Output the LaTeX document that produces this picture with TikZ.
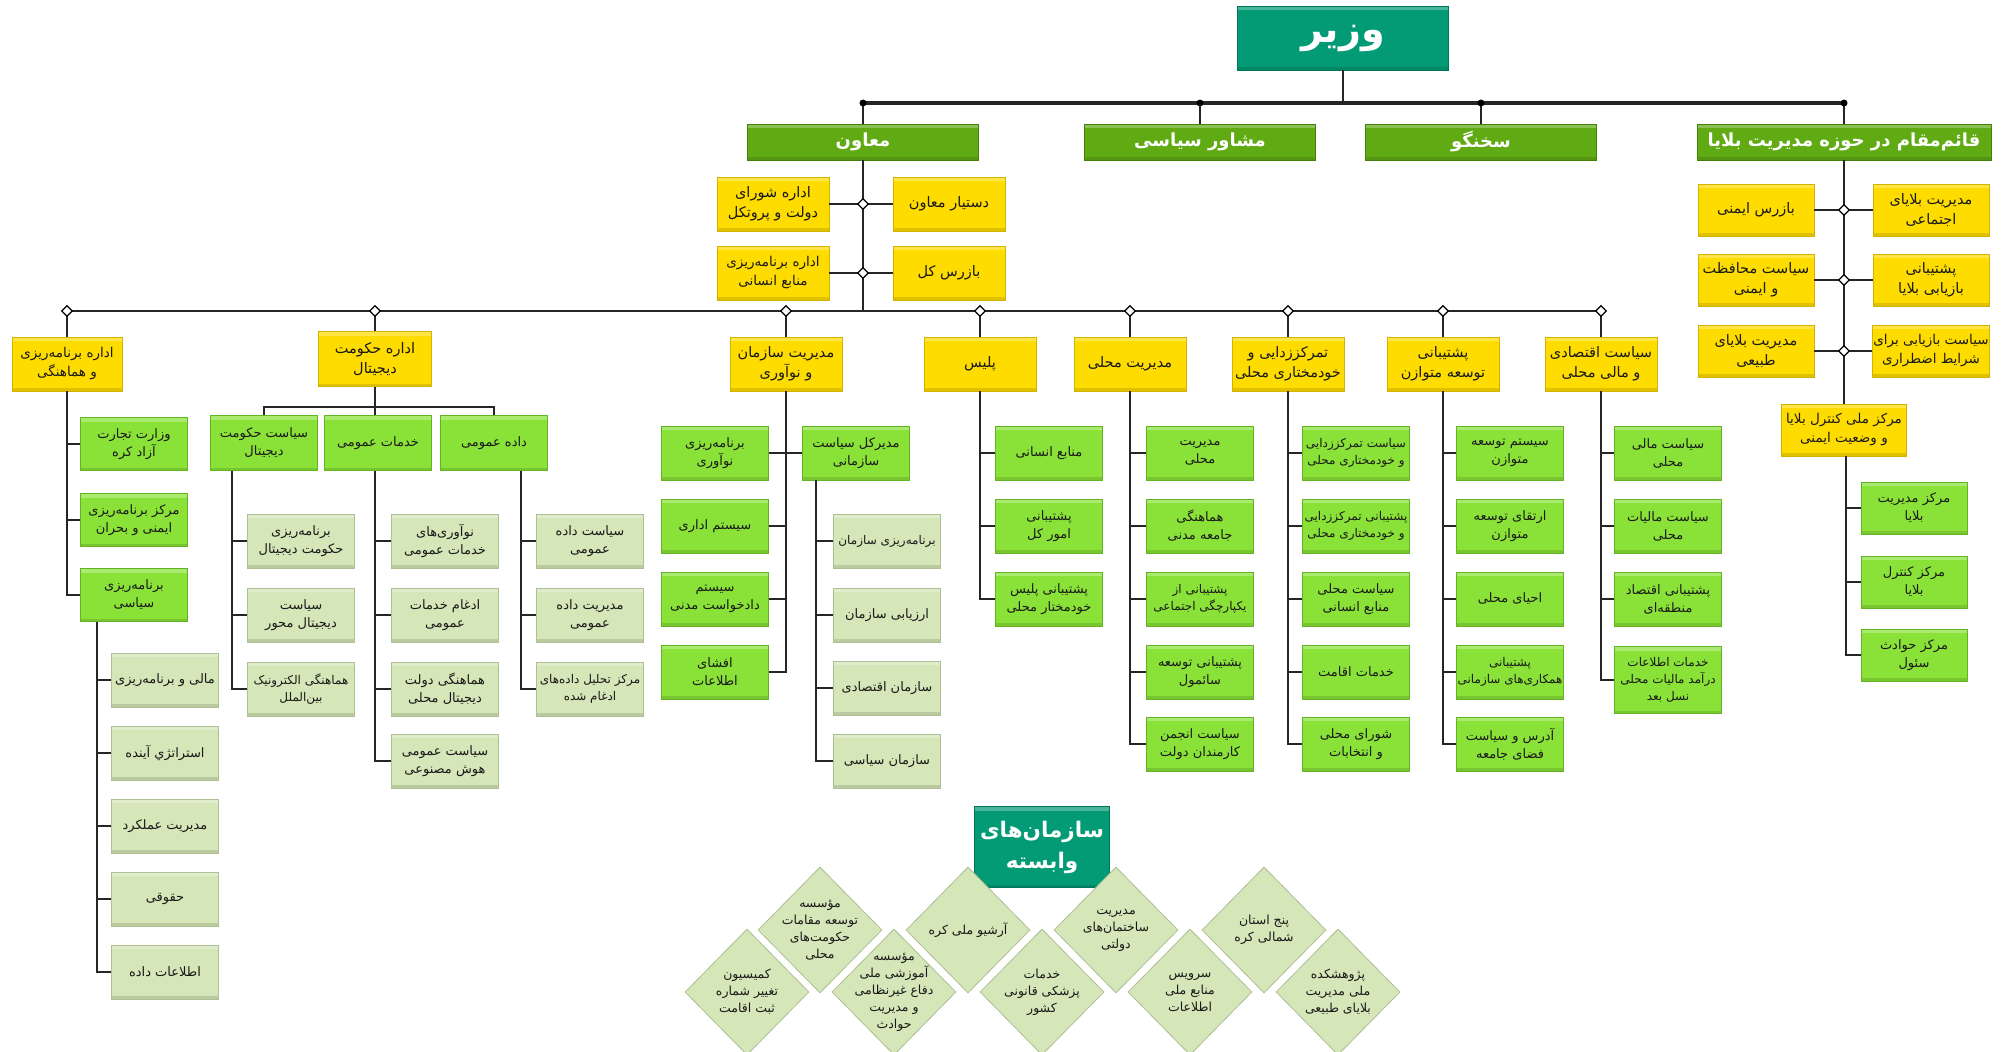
\documentclass[tikz,border=0pt]{standalone}
\usepackage{fontspec}
\usetikzlibrary{shapes.geometric}
\newfontfamily\arabicfont[Script=Arabic]{DejaVu Sans}
\TeXXeTstate=1
\newcommand\fatxt[1]{\beginR#1\endR}
\newcommand\zw{^^^^200c}
\definecolor{tealC}{RGB}{3,155,118}
\definecolor{tealD}{RGB}{0,118,88}
\definecolor{lvC}{RGB}{96,170,20}
\definecolor{lvD}{RGB}{66,128,10}
\definecolor{yelC}{RGB}{255,220,0}
\definecolor{yelD}{RGB}{212,178,0}
\definecolor{grnC}{RGB}{138,226,56}
\definecolor{grnD}{RGB}{98,180,36}
\definecolor{ltC}{RGB}{213,230,184}
\definecolor{ltD}{RGB}{172,192,148}
\definecolor{lnC}{RGB}{38,38,38}
\definecolor{txC}{RGB}{25,25,25}
\tikzset{
 box/.style={rectangle, inner sep=1pt, align=center, text=txC, line width=0.8pt,
   font=\arabicfont\fontsize{13}{18}\selectfont,
   path picture={\fill[white, opacity=0.28] (path picture bounding box.north west) rectangle ([yshift=-4pt]path picture bounding box.north east);
                 \fill[black, opacity=0.12] (path picture bounding box.south west) rectangle ([yshift=3pt]path picture bounding box.south east);}},
 small/.style={font=\arabicfont\fontsize{12}{17}\selectfont},
 ybox/.style={box, fill=yelC, draw=yelD, minimum width=112pt, minimum height=54pt,
   font=\arabicfont\fontsize{14.5}{20}\selectfont},
 ysmall/.style={font=\arabicfont\fontsize{13.5}{19}\selectfont},
 gbox/.style={box, fill=grnC, draw=grnD, minimum width=107pt, minimum height=54pt},
 lbox/.style={box, fill=ltC, draw=ltD, minimum width=107pt, minimum height=54pt},
 lvbox/.style={box, fill=lvC, draw=lvD, minimum width=231pt, minimum height=36pt, text=white,
   font=\arabicfont\bfseries\fontsize{18}{22}\selectfont},
 tbox/.style={box, fill=tealC, draw=tealD, text=white},
 conn/.style={draw=lnC, line width=2.8pt},
 connT/.style={draw=lnC, line width=4pt},
 jd/.style={diamond, draw=black, fill=white, line width=1.2pt, inner sep=0pt, minimum width=11pt, minimum height=11pt},
 jdot/.style={circle, fill=black, inner sep=0pt, minimum size=7pt},
 dshape/.style={diamond, fill=ltC, draw=ltD, line width=0.8pt, inner sep=0pt, minimum width=124pt, minimum height=126pt},
 dtext/.style={align=center, text=txC, font=\arabicfont\fontsize{12.5}{17}\selectfont, inner sep=0pt},
}
\begin{document}
\begin{tikzpicture}[x=1pt,y=-1pt]
\useasboundingbox[fill=white] (0,0) rectangle (2008,1052);
% ---------- top ----------
\node[tbox, minimum width=211pt, minimum height=64pt, font=\arabicfont\bfseries\fontsize{38}{44}\selectfont] (wz) at (1343,38) {\fatxt{وزیر}};
\node[lvbox] (l2a) at (863,142) {\fatxt{معاون}};
\node[lvbox] (l2b) at (1200,142) {\fatxt{مشاور سیاسی}};
\node[lvbox] (l2c) at (1481,142) {\fatxt{سخنگو}};
\node[lvbox, minimum width=294pt] (l2d) at (1844,142) {\fatxt{قائم\zw مقام در حوزه مدیریت بلایا}};
\coordinate (b2L) at (863,103);
\coordinate (b2R) at (1844,103);
\draw[connT] (b2L) -- (b2R);
\draw[conn] (wz.south) -- (wz.south |- b2L);
\foreach \n in {l2a,l2b,l2c,l2d} \draw[conn] (\n.north) -- (\n.north |- b2L);
\foreach \n/\k in {l2a/1,l2b/2,l2c/3,l2d/4} \node[jdot] (dot\k) at (\n.north |- b2L) {};
% ---------- deputy ----------
\node[ybox] (m1) at (949,204) {\fatxt{دستیار معاون}};
\node[ybox] (m2) at (773,204) {\fatxt{اداره شورای}\\\fatxt{دولت و پروتکل}};
\node[ybox] (m3) at (949,273) {\fatxt{بازرس کل}};
\node[ybox, ysmall] (m4) at (773,273) {\fatxt{اداره برنامه\zw ریزی}\\\fatxt{منابع انسانی}};
\coordinate (b3L) at (67,311);
\coordinate (b3R) at (1601,311);
\draw[conn] (l2a.south) -- (l2a.south |- b3L);
\draw[conn] (m2.east) -- (m1.west);
\draw[conn] (m4.east) -- (m3.west);
\node[jd] (jm1) at (l2a.south |- m1.west) {};
\node[jd] (jm2) at (l2a.south |- m3.west) {};
% ---------- right column ----------
\node[ybox, minimum width=116pt, minimum height=52pt] (r1R) at (1931,210) {\fatxt{مدیریت بلایای}\\\fatxt{اجتماعی}};
\node[ybox, minimum width=116pt, minimum height=52pt] (r1L) at (1756,210) {\fatxt{بازرس ایمنی}};
\node[ybox, minimum width=116pt, minimum height=52pt] (r2R) at (1931,280) {\fatxt{پشتیبانی}\\\fatxt{بازیابی بلایا}};
\node[ybox, minimum width=116pt, minimum height=52pt] (r2L) at (1756,280) {\fatxt{سیاست محافظت}\\\fatxt{و ایمنی}};
\node[ybox, ysmall, minimum width=116pt, minimum height=52pt] (r3R) at (1931,351) {\fatxt{سیاست بازیابی برای}\\\fatxt{شرایط اضطراری}};
\node[ybox, minimum width=116pt, minimum height=52pt] (r3L) at (1756,351) {\fatxt{مدیریت بلایای}\\\fatxt{طبیعی}};
\node[ybox, ysmall, minimum width=125pt, minimum height=52pt] (mmk) at (1844,430) {\fatxt{مرکز ملی کنترل بلایا}\\\fatxt{و وضعیت ایمنی}};
\node[gbox, minimum width=106pt, minimum height=52pt] (mk1) at (1914,508) {\fatxt{مرکز مدیریت}\\\fatxt{بلایا}};
\node[gbox, minimum width=106pt, minimum height=52pt] (mk2) at (1914,582) {\fatxt{مرکز کنترل}\\\fatxt{بلایا}};
\node[gbox, minimum width=106pt, minimum height=52pt] (mk3) at (1914,655) {\fatxt{مرکز حوادث}\\\fatxt{سئول}};
\draw[conn] (l2d.south) -- (mmk.north);
\foreach \a/\b in {r1L/r1R,r2L/r2R,r3L/r3R} \draw[conn] (\a.east) -- (\b.west);
\foreach \a/\k in {r1L/1,r2L/2,r3L/3} \node[jd] (jr\k) at (l2d.south |- \a.east) {};
\coordinate (mmkv) at ([xshift=2pt]mmk.south);
\draw[conn] (mmkv) |- (mk3.west);
\foreach \n in {mk1,mk2} \draw[conn] (\n.west) -- (mmkv |- \n.west);
% ---------- level 3 ----------
\draw[conn] (b3L) -- (b3R);
\node[ybox, ysmall, minimum width=110pt] (y1) at (67,364) {\fatxt{اداره برنامه\zw ریزی}\\\fatxt{و هماهنگی}};
\node[ybox, minimum width=113pt, minimum height=55pt] (y2) at (375,359) {\fatxt{اداره حکومت}\\\fatxt{دیجیتال}};
\node[ybox] (y3) at (786,364) {\fatxt{مدیریت سازمان}\\\fatxt{و نوآوری}};
\node[ybox] (y4) at (980,364) {\fatxt{پلیس}};
\node[ybox] (y5) at (1130,364) {\fatxt{مدیریت محلی}};
\node[ybox] (y6) at (1288,364) {\fatxt{تمرکززدایی و}\\\fatxt{خودمختاری محلی}};
\node[ybox] (y7) at (1443,364) {\fatxt{پشتیبانی}\\\fatxt{توسعه متوازن}};
\node[ybox] (y8) at (1601,364) {\fatxt{سیاست اقتصادی}\\\fatxt{و مالی محلی}};
\foreach \n in {y1,y2,y3,y4,y5,y6,y7,y8} \draw[conn] (\n.north) -- (\n.north |- b3L);
% --- planning & coordination
\node[gbox, minimum height=53pt] (a1) at (134,444) {\fatxt{وزارت تجارت}\\\fatxt{آزاد کره}};
\node[gbox, minimum height=53pt] (a2) at (134,520) {\fatxt{مرکز برنامه\zw ریزی}\\\fatxt{ایمنی و بحران}};
\node[gbox, minimum height=53pt] (a3) at (134,595) {\fatxt{برنامه\zw ریزی}\\\fatxt{سیاسی}};
\draw[conn] (y1.south) |- (a3.west);
\foreach \n in {a1,a2} \draw[conn] (\n.west) -- (y1.south |- \n.west);
\node[lbox] (ap1) at (165,680) {\fatxt{مالی و برنامه\zw ریزی}};
\node[lbox] (ap2) at (165,753) {\fatxt{استراتژي آینده}};
\node[lbox] (ap3) at (165,826) {\fatxt{مدیریت عملکرد}};
\node[lbox] (ap4) at (165,899) {\fatxt{حقوقی}};
\node[lbox] (ap5) at (165,972) {\fatxt{اطلاعات داده}};
\coordinate (a3v) at ([xshift=-37pt]a3.south);
\draw[conn] (a3v) |- (ap5.west);
\foreach \n in {ap1,ap2,ap3,ap4} \draw[conn] (\n.west) -- (a3v |- \n.west);
% --- digital government
\node[gbox, minimum height=55pt] (s1) at (264,443) {\fatxt{سیاست حکومت}\\\fatxt{دیجیتال}};
\node[gbox, minimum height=55pt] (s2) at (378,443) {\fatxt{خدمات عمومی}};
\node[gbox, minimum height=55pt] (s3) at (494,443) {\fatxt{داده عمومی}};
\coordinate (hb) at (375,407);
\draw[conn] (y2.south) -- (y2.south |- s2.north);
\draw[conn] (s1.north) -- (s1.north |- hb) -- (s3.north |- hb) -- (s3.north);
\node[lbox] (s1c1) at (301,541) {\fatxt{برنامه\zw ریزی}\\\fatxt{حکومت دیجیتال}};
\node[lbox] (s1c2) at (301,615) {\fatxt{سیاست}\\\fatxt{دیجیتال محور}};
\node[lbox, small] (s1c3) at (301,689) {\fatxt{هماهنگی الکترونیک}\\\fatxt{بین\zw الملل}};
\coordinate (s1v) at ([xshift=-32pt]s1.south);
\draw[conn] (s1v) |- (s1c3.west);
\foreach \n in {s1c1,s1c2} \draw[conn] (\n.west) -- (s1v |- \n.west);
\node[lbox] (s2c1) at (445,541) {\fatxt{نوآوری\zw های}\\\fatxt{خدمات عمومی}};
\node[lbox] (s2c2) at (445,615) {\fatxt{ادغام خدمات}\\\fatxt{عمومی}};
\node[lbox] (s2c3) at (445,689) {\fatxt{هماهنگی دولت}\\\fatxt{دیجیتال محلی}};
\node[lbox] (s2c4) at (445,761) {\fatxt{سیاست عمومی}\\\fatxt{هوش مصنوعی}};
\coordinate (s2v) at ([xshift=-3pt]s2.south);
\draw[conn] (s2v) |- (s2c4.west);
\foreach \n in {s2c1,s2c2,s2c3} \draw[conn] (\n.west) -- (s2v |- \n.west);
\node[lbox] (s3c1) at (590,541) {\fatxt{سیاست داده}\\\fatxt{عمومی}};
\node[lbox] (s3c2) at (590,615) {\fatxt{مدیریت داده}\\\fatxt{عمومی}};
\node[lbox, small] (s3c3) at (590,689) {\fatxt{مرکز تحلیل داده\zw های}\\\fatxt{ادغام شده}};
\coordinate (s3v) at ([xshift=27pt]s3.south);
\draw[conn] (s3v) |- (s3c3.west);
\foreach \n in {s3c1,s3c2} \draw[conn] (\n.west) -- (s3v |- \n.west);
% --- organisation & innovation
\node[gbox] (o1) at (715,453) {\fatxt{برنامه\zw ریزی}\\\fatxt{نوآوری}};
\node[gbox] (o2) at (715,526) {\fatxt{سیستم اداری}};
\node[gbox] (o3) at (715,599) {\fatxt{سیستم}\\\fatxt{دادخواست مدنی}};
\node[gbox] (o4) at (715,672) {\fatxt{افشای}\\\fatxt{اطلاعات}};
\node[gbox] (od) at (856,453) {\fatxt{مدیرکل سیاست}\\\fatxt{سازمانی}};
\draw[conn] (y3.south) |- (o4.east);
\foreach \n in {o1,o2,o3} \draw[conn] (\n.east) -- (y3.south |- \n.east);
\draw[conn] (od.west) -- (y3.south |- od.west);
\node[lbox, small] (od1) at (887,541) {\fatxt{برنامه\zw ریزی سازمان}};
\node[lbox] (od2) at (887,615) {\fatxt{ارزیابی سازمان}};
\node[lbox] (od3) at (887,688) {\fatxt{سازمان اقتصادی}};
\node[lbox] (od4) at (887,761) {\fatxt{سازمان سیاسی}};
\coordinate (odv) at ([xshift=-40pt]od.south);
\draw[conn] (odv) |- (od4.west);
\foreach \n in {od1,od2,od3} \draw[conn] (\n.west) -- (odv |- \n.west);
% --- police
\node[gbox] (p1) at (1049,453) {\fatxt{منابع انسانی}};
\node[gbox] (p2) at (1049,526) {\fatxt{پشتیبانی}\\\fatxt{امور کل}};
\node[gbox] (p3) at (1049,599) {\fatxt{پشتیبانی پلیس}\\\fatxt{خودمختار محلی}};
\draw[conn] (y4.south) |- (p3.west);
\foreach \n in {p1,p2} \draw[conn] (\n.west) -- (y4.south |- \n.west);
% --- local administration
\node[gbox] (q1) at (1200,453) {\fatxt{مدیریت}\\\fatxt{محلی}};
\node[gbox] (q2) at (1200,526) {\fatxt{هماهنگی}\\\fatxt{جامعه مدنی}};
\node[gbox, small] (q3) at (1200,599) {\fatxt{پشتیبانی از}\\\fatxt{یکپارچگی اجتماعی}};
\node[gbox] (q4) at (1200,672) {\fatxt{پشتیبانی توسعه}\\\fatxt{سائمول}};
\node[gbox] (q5) at (1200,744) {\fatxt{سیاست انجمن}\\\fatxt{کارمندان دولت}};
\draw[conn] (y5.south) |- (q5.west);
\foreach \n in {q1,q2,q3,q4} \draw[conn] (\n.west) -- (y5.south |- \n.west);
% --- decentralisation
\node[gbox, small] (t1) at (1356,453) {\fatxt{سیاست تمرکززدایی}\\\fatxt{و خودمختاری محلی}};
\node[gbox, small] (t2) at (1356,526) {\fatxt{پشتیبانی تمرکززدایی}\\\fatxt{و خودمختاری محلی}};
\node[gbox] (t3) at (1356,599) {\fatxt{سیاست محلی}\\\fatxt{منابع انسانی}};
\node[gbox] (t4) at (1356,672) {\fatxt{خدمات اقامت}};
\node[gbox] (t5) at (1356,744) {\fatxt{شورای محلی}\\\fatxt{و انتخابات}};
\draw[conn] (y6.south) |- (t5.west);
\foreach \n in {t1,t2,t3,t4} \draw[conn] (\n.west) -- (y6.south |- \n.west);
% --- balanced development
\node[gbox] (v1) at (1510,453) {\fatxt{سیستم توسعه}\\\fatxt{متوازن}};
\node[gbox] (v2) at (1510,526) {\fatxt{ارتقای توسعه}\\\fatxt{متوازن}};
\node[gbox] (v3) at (1510,599) {\fatxt{احیای محلی}};
\node[gbox, small] (v4) at (1510,672) {\fatxt{پشتیبانی}\\\fatxt{همکاری\zw های سازمانی}};
\node[gbox] (v5) at (1510,744) {\fatxt{آدرس و سیاست}\\\fatxt{فضای جامعه}};
\draw[conn] (y7.south) |- (v5.west);
\foreach \n in {v1,v2,v3,v4} \draw[conn] (\n.west) -- (y7.south |- \n.west);
% --- economic & fiscal
\node[gbox] (e1) at (1668,453) {\fatxt{سیاست مالی}\\\fatxt{محلی}};
\node[gbox] (e2) at (1668,526) {\fatxt{سیاست مالیات}\\\fatxt{محلی}};
\node[gbox] (e3) at (1668,599) {\fatxt{پشتیبانی اقتصاد}\\\fatxt{منطقه\zw ای}};
\node[gbox, small, minimum height=67pt] (e4) at (1668,680) {\fatxt{خدمات اطلاعات}\\\fatxt{درآمد مالیات محلی}\\\fatxt{نسل بعد}};
\draw[conn] (y8.south) |- (e4.west);
\foreach \n in {e1,e2,e3} \draw[conn] (\n.west) -- (y8.south |- \n.west);
% --- junction markers on level-3 bar
\foreach \n/\k in {y1/1,y2/2,y3/3,y4/4,y5/5,y6/6,y7/7,y8/8} \node[jd] (jb\k) at (\n.north |- b3L) {};
% ---------- affiliated organisations ----------
\node[tbox, minimum width=135pt, minimum height=81pt, font=\arabicfont\bfseries\fontsize{21.5}{31}\selectfont] (vb) at (1042,847) {\fatxt{سازمان\zw های}\\\fatxt{وابسته}};
\node[dshape] (dA) at (820,930) {};
\node[dshape] (dB) at (968,930) {};
\node[dshape] (dC) at (1116,930) {};
\node[dshape] (dD) at (1264,930) {};
\node[dshape] (dE) at (747,992) {};
\node[dshape] (dF) at (894,992) {};
\node[dshape] (dG) at (1042,992) {};
\node[dshape] (dH) at (1190,992) {};
\node[dshape] (dI) at (1338,992) {};
\node[dtext] (xA) at (dA.center) {\fatxt{مؤسسه}\\\fatxt{توسعه مقامات}\\\fatxt{حکومت\zw های}\\\fatxt{محلی}};
\node[dtext] (xB) at (dB.center) {\fatxt{آرشیو ملی کره}};
\node[dtext] (xC) at (dC.center) {\fatxt{مدیریت}\\\fatxt{ساختمان\zw های}\\\fatxt{دولتی}};
\node[dtext] (xD) at (dD.center) {\fatxt{پنج استان}\\\fatxt{شمالی کره}};
\node[dtext] (xE) at (dE.center) {\fatxt{کمیسیون}\\\fatxt{تغییر شماره}\\\fatxt{ثبت اقامت}};
\node[dtext] (xF) at (dF.center) {\fatxt{مؤسسه}\\\fatxt{آموزشی ملی}\\\fatxt{دفاع غیرنظامی}\\\fatxt{و مدیریت}\\\fatxt{حوادث}};
\node[dtext] (xG) at (dG.center) {\fatxt{خدمات}\\\fatxt{پزشکی قانونی}\\\fatxt{کشور}};
\node[dtext] (xH) at (dH.center) {\fatxt{سرویس}\\\fatxt{منابع ملی}\\\fatxt{اطلاعات}};
\node[dtext] (xI) at (dI.center) {\fatxt{پژوهشکده}\\\fatxt{ملی مدیریت}\\\fatxt{بلایای طبیعی}};
\end{tikzpicture}
\end{document}
